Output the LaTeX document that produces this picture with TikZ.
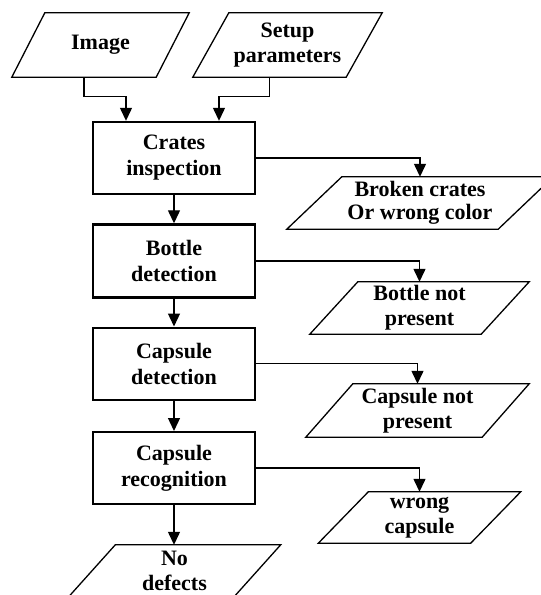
\documentclass[tikz,border=0pt]{standalone}
\usepackage{fontspec}
\setmainfont{Liberation Serif}
\usetikzlibrary{arrows.meta}

\tikzset{
	proc/.style={draw, line width=2.4pt, minimum width=162pt, minimum height=72pt,
		inner sep=0pt, align=center, font=\fontsize{22}{26}\selectfont\bfseries},
	io/.style 2 args={minimum width=#1, minimum height=#2,
		inner sep=0pt, align=center, font=\fontsize{22}{25}\selectfont\bfseries},
	iobox/.style={draw, line width=1.3pt, line join=miter},
	arr/.style={line width=1.3pt, -{Triangle[length=13pt,width=12pt]}}
}

\begin{document}
\begin{tikzpicture}[x=1pt,y=-1pt]
	\useasboundingbox (0,0) rectangle (541,595);
	\clip (0,0) rectangle (541,595);

	\node[io={144pt}{64pt}] (img) at (100.5,45) {Image};
	\node[io={153pt}{64pt}] (setup) at (287.5,45) {Setup\\parameters};

	\node[proc] (crates) at (174,158) {Crates\\inspection};
	\node[proc, minimum height=73pt] (bottle) at (174,261) {Bottle\\detection};
	\node[proc, line width=2pt] (capdet) at (174,363.5) {Capsule\\detection};
	\node[proc, line width=2pt] (caprec) at (174,468) {Capsule\\recognition};

	\node[io={211pt}{52pt}] (broken) at (420,203) {Broken crates\\[-2pt]Or wrong color};
	\node[io={171pt}{52pt}] (nobottle) at (419.5,308) {Bottle not\\present};
	\node[io={176pt}{53pt}] (nocap) at (417.5,410.5) {Capsule not\\present};
	\node[io={152pt}{51pt}] (wrongcap) at (419.5,517.5) {wrong\\capsule};
	\node[io={165pt}{52pt}] (nodef) at (174.5,571) {No\\defects};

	% slanted outlines, name/slant
	\foreach \n/\s in {img/33, setup/36, broken/55, nobottle/48, nocap/47, wrongcap/50, nodef/47}
		\draw[iobox] ([xshift=\s/2]\n.north west) -- ([xshift=\s/2]\n.north east)
			-- ([xshift=-\s/2]\n.south east) -- ([xshift=-\s/2]\n.south west) -- cycle;

	% inputs
	\draw[arr] ([xshift=-16.5pt]img.south) -- ++(0,19) -| ([xshift=-48pt]crates.north);
	\draw[arr] ([xshift=-18pt]setup.south) -- ++(0,19) -| ([xshift=45pt]crates.north);

	\draw[arr] (crates) -- (bottle);
	\draw[arr] (bottle) -- (capdet);
	\draw[arr] (capdet) -- (caprec);
	\draw[arr] (caprec) -- (caprec |- nodef.north);

	% defects
	\draw[arr] (crates.east) -| (broken.north);
	\draw[arr] (bottle.east) -| (nobottle.north);
	\draw[arr] (capdet.east) -| (nocap.north);
	\draw[arr] (caprec.east) -| (wrongcap.north);
\end{tikzpicture}
\end{document}
